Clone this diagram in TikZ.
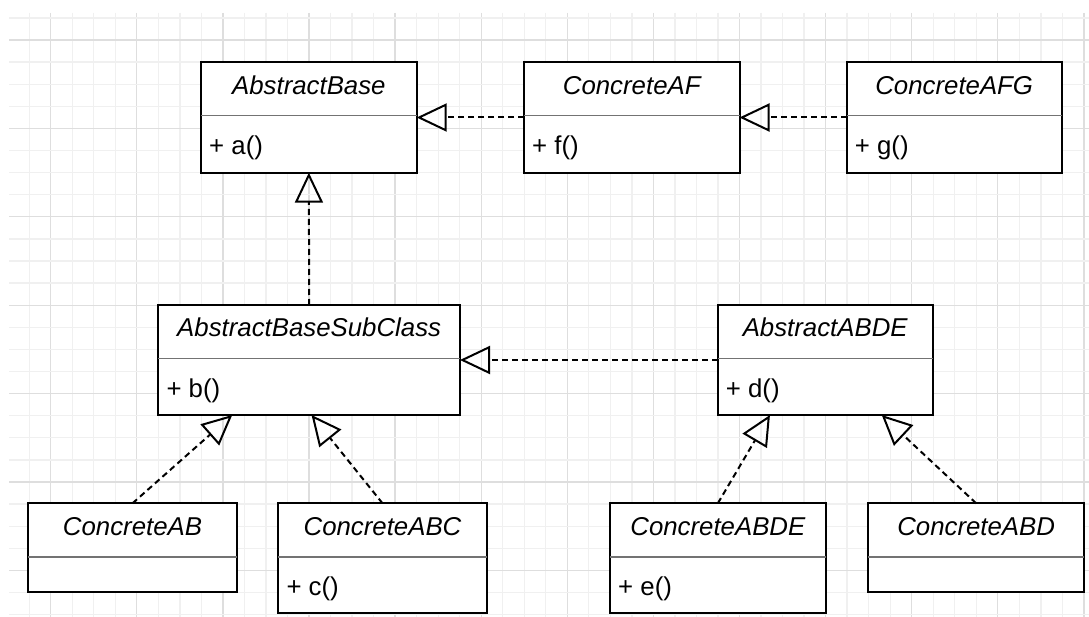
\documentclass[tikz,border=0pt]{standalone}
\usepackage{fontspec}
\setmainfont{Liberation Sans}
\usetikzlibrary{arrows.meta,calc}

% UML class box: name, left, top, width, height, class name, member
\newcommand{\umlclass}[7]{%
  \node[classbox, minimum width=#4pt, minimum height=#5pt, anchor=north west] (#1) at (#2,#3) {};
  \draw[divider] ([yshift=-53.5pt]#1.north west) -- ([yshift=-53.5pt]#1.north east);
  \node[classtitle, anchor=base] (#1-title) at ([yshift=-32pt]#1.north) {#6};
  \if\relax\detokenize{#7}\relax\else
    \node[classmember, anchor=base west] (#1-member) at ([xshift=8pt,yshift=-92pt]#1.north west) {#7};
  \fi
}

\tikzset{
  classbox/.style={draw=black, line width=2pt, fill=white, inner sep=0pt, outer sep=0pt, rectangle},
  divider/.style={draw=black!55, line width=1.4pt},
  classtitle/.style={inner sep=0pt, font=\fontsize{25.8}{30}\selectfont\itshape},
  classmember/.style={inner sep=0pt, font=\fontsize{25.8}{30}\selectfont},
  realizes/.style={line width=2pt, dash pattern=on 6pt off 4pt,
    -{Triangle[open, length=30pt, width=28pt, line width=2pt]}},
  minorgrid/.style={draw=black!6, line width=1.3pt},
  majorgrid/.style={draw=black!13, line width=1.3pt},
}

\begin{document}
\begin{tikzpicture}[x=1pt, y=-1pt]
  \useasboundingbox[fill=white] (0,0) rectangle (1089,617);

  % background grid (minor every 21.525 x 22.1, major every fourth line)
  \foreach \k in {-1,...,49} {
    \pgfmathsetmacro{\gx}{50.7+21.525*\k}
    \pgfmathparse{mod(\k+4,4)==0 ? 1 : 0}
    \ifnum\pgfmathresult=1
      \draw[majorgrid] (\gx,13) -- (\gx,617);
    \else
      \draw[minorgrid] (\gx,13) -- (\gx,617);
    \fi
  }
  \foreach \k in {-1,...,26} {
    \pgfmathsetmacro{\gy}{40+22.1*\k}
    \pgfmathparse{mod(\k+4,4)==0 ? 1 : 0}
    \ifnum\pgfmathresult=1
      \draw[majorgrid] (9,\gy) -- (1089,\gy);
    \else
      \draw[minorgrid] (9,\gy) -- (1089,\gy);
    \fi
  }

  % classes
  \umlclass{base}{201}{62.3}{215.7}{110.4}{AbstractBase}{+ a()}
  \umlclass{af}{524}{62.3}{215.5}{110.4}{ConcreteAF}{+ f()}
  \umlclass{afg}{846.7}{62.3}{215}{110.4}{ConcreteAFG}{+ g()}
  \umlclass{sub}{158.3}{305}{301.7}{110}{AbstractBaseSubClass}{+ b()}
  \umlclass{abde}{717.7}{305}{215}{110}{AbstractABDE}{+ d()}
  \umlclass{cab}{28.3}{503.3}{208.4}{88.4}{ConcreteAB}{}
  \umlclass{cabc}{278.3}{503.3}{208.4}{109.4}{ConcreteABC}{+ c()}
  \umlclass{cabde}{610}{503.3}{215.7}{110}{ConcreteABDE}{+ e()}
  \umlclass{cabd}{868.3}{503.3}{215.7}{88.4}{ConcreteABD}{}

  % realization connectors
  \draw[realizes] (af.west) -- (base.east);
  \draw[realizes] (afg.west) -- (af.east);
  \draw[realizes] (sub.north) -- (base.south);
  \draw[realizes] (abde.west) -- (sub.east);
  \draw[realizes] (cab.north) -- ($(sub.south west)!0.245!(sub.south east)$);
  \draw[realizes] (cabc.north) -- ($(sub.south west)!0.508!(sub.south east)$);
  \draw[realizes] (cabde.north) -- ($(abde.south west)!0.243!(abde.south east)$);
  \draw[realizes] (cabd.north) -- ($(abde.south west)!0.763!(abde.south east)$);
\end{tikzpicture}
\end{document}
